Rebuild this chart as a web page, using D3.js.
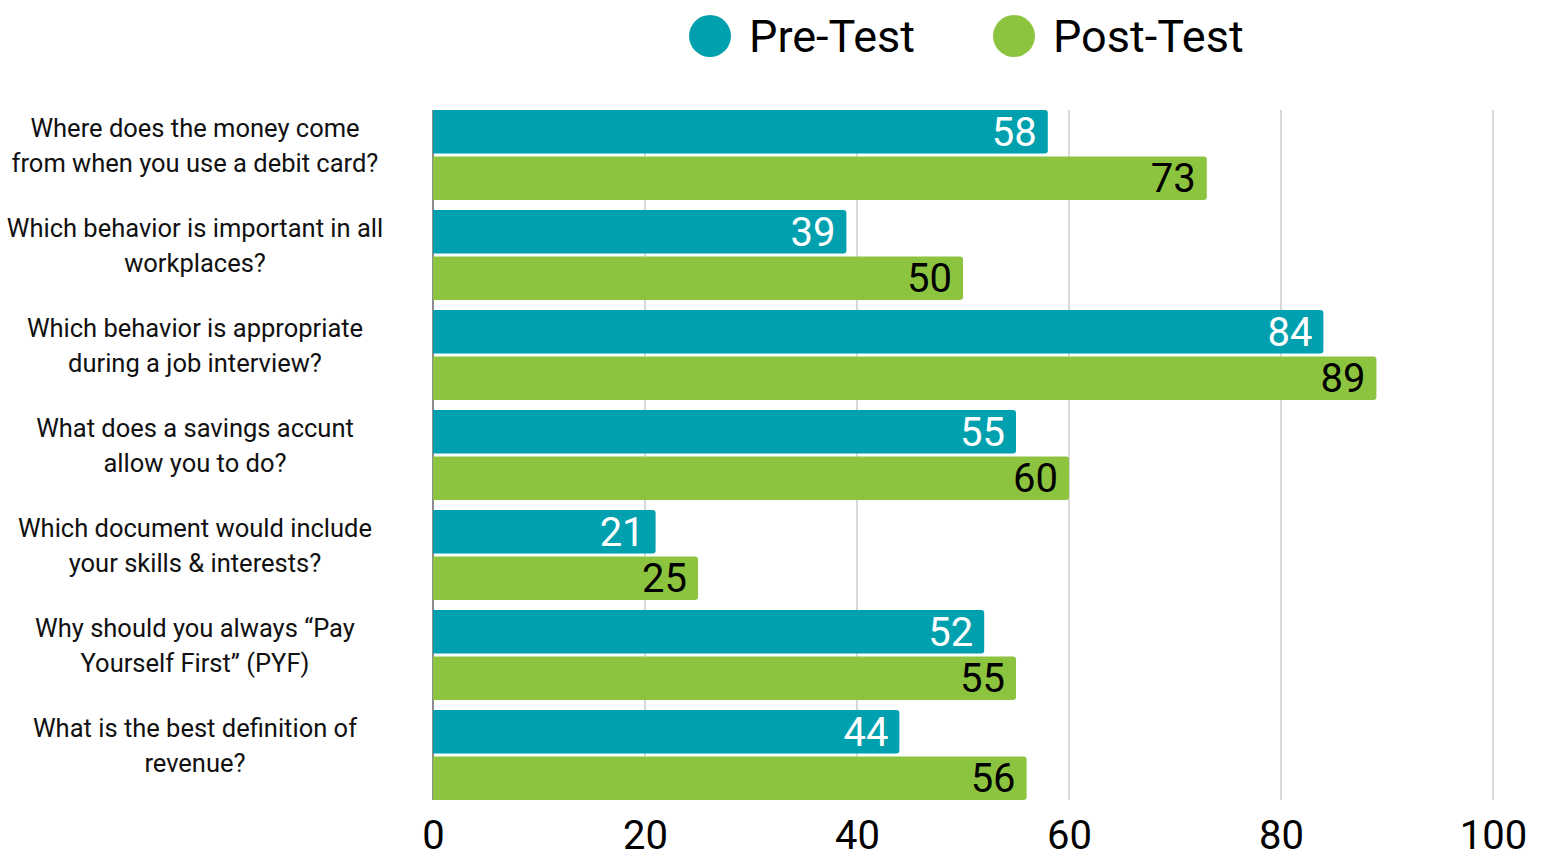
<!DOCTYPE html>
<html>
<head>
<meta charset="utf-8">
<script src="https://cdn.jsdelivr.net/npm/d3@7"></script>
<style>
  body { margin: 0; background: #fff; }
  svg { display: block; font-family: Roboto, "Noto Sans", sans-serif; }
</style>
</head>
<body>
<svg id="chart" width="1544" height="855"></svg>
<script>
// questions, each split into its two display lines
var questions = [
    ["Where does the money come", "from when you use a debit card?"],
    ["Which behavior is important in all", "workplaces?"],
    ["Which behavior is appropriate", "during a job interview?"],
    ["What does a savings accunt", "allow you to do?"],
    ["Which document would include", "your skills & interests?"],
    ["Why should you always \u201cPay", "Yourself First\u201d (PYF)"],
    ["What is the best definition of", "revenue?"]
];
var preTest = [58, 39, 84, 55, 21, 52, 44];
var postTest = [73, 50, 89, 60, 25, 55, 56];
var seriesNames = ["Pre-Test", "Post-Test"];
var ticks = [0, 20, 40, 60, 80, 100];

var colors = {"Pre-Test": "#00A0AE", "Post-Test": "#8DC43F"};
var labelColors = {"Pre-Test": "#fff", "Post-Test": "#000"};

function drawChart() {
    var left = 433, right = 1493, top = 110, bottom = 800;

    var data = questions.map(function(q, i) {
        return {q: q, i: i, vals: [
            {name: "Pre-Test", v: preTest[i]},
            {name: "Post-Test", v: postTest[i]}
        ]};
    });

    var x = d3.scaleLinear().domain([0, 100]).range([left, right]);

    var y = d3.scaleBand()
        .domain(d3.range(questions.length))
        .range([top, bottom])
        .paddingInner(0.1)
        .paddingOuter(0);

    var ySub = d3.scaleBand()
        .domain(seriesNames)
        .range([0, y.bandwidth()])
        .paddingInner(0.06);

    var svg = d3.select("#chart");

    // grid lines
    svg.append("g")
        .attr("class", "grid")
        .selectAll("line")
        .data(ticks.slice(1))
      .enter().append("line")
        .attr("x1", function(d) { return x(d); })
        .attr("x2", function(d) { return x(d); })
        .attr("y1", top)
        .attr("y2", bottom)
        .attr("stroke", "#cccccc")
        .attr("stroke-width", 1.5);

    // zero line
    svg.append("line")
        .attr("x1", x(0)).attr("x2", x(0))
        .attr("y1", top)
        .attr("y2", bottom)
        .attr("stroke", "#666")
        .attr("stroke-width", 1.5);

    // x axis labels
    var xAxis = d3.axisBottom(x).tickValues(ticks).tickSize(0).tickPadding(0);
    var ax = svg.append("g")
        .attr("transform", "translate(0,849)")
        .call(xAxis);
    ax.select(".domain").remove();
    ax.selectAll("text")
        .attr("dy", 0)
        .attr("y", 0)
        .style("font-family", "Roboto, sans-serif")
        .style("font-size", "40px")
        .attr("fill", "#000");

    // bars
    var groups = svg.selectAll(".group")
        .data(data)
      .enter().append("g")
        .attr("class", "group")
        .attr("transform", function(d) { return "translate(0," + y(d.i) + ")"; });

    groups.selectAll("path")
        .data(function(d) { return d.vals; })
      .enter().append("path")
        .attr("fill", function(d) { return colors[d.name]; })
        .attr("d", function(d) {
            var x0 = x(0), x1 = x(d.v), y0 = ySub(d.name), h = ySub.bandwidth(), r = 3;
            return "M" + x0 + "," + y0 + "H" + (x1 - r) + "Q" + x1 + "," + y0 + " " + x1 + "," + (y0 + r)
                + "V" + (y0 + h - r) + "Q" + x1 + "," + (y0 + h) + " " + (x1 - r) + "," + (y0 + h)
                + "H" + x0 + "Z";
        });

    groups.selectAll(".val")
        .data(function(d) { return d.vals; })
      .enter().append("text")
        .attr("class", "val")
        .attr("x", function(d) { return x(d.v) - 11; })
        .attr("y", function(d) { return ySub(d.name) + ySub.bandwidth() / 2 + 14; })
        .attr("text-anchor", "end")
        .attr("font-size", "40px")
        .attr("fill", function(d) { return labelColors[d.name]; })
        .text(function(d) { return d.v; });

    // category labels
    var lab = groups.append("text")
        .attr("text-anchor", "middle")
        .attr("font-size", "25.5px")
        .attr("fill", "#111");
    lab.selectAll("tspan")
        .data(function(d) { return d.q; })
      .enter().append("tspan")
        .attr("x", 195)
        .attr("y", function(d, j) { return y.bandwidth() / 2 - 18 + j * 35; })
        .text(function(d) { return d; });

    // legend
    var legend = svg.append("g").attr("class", "legend");
    var legX = [710, 1014];
    seriesNames.forEach(function(s, i) {
        legend.append("circle")
            .attr("cx", legX[i]).attr("cy", 36).attr("r", 21)
            .attr("fill", colors[s]);
        legend.append("text")
            .attr("x", legX[i] + 39).attr("y", 52)
            .attr("font-size", "45px")
            .attr("fill", "#000")
            .text(s);
    });
}

drawChart();
</script>
</body>
</html>
